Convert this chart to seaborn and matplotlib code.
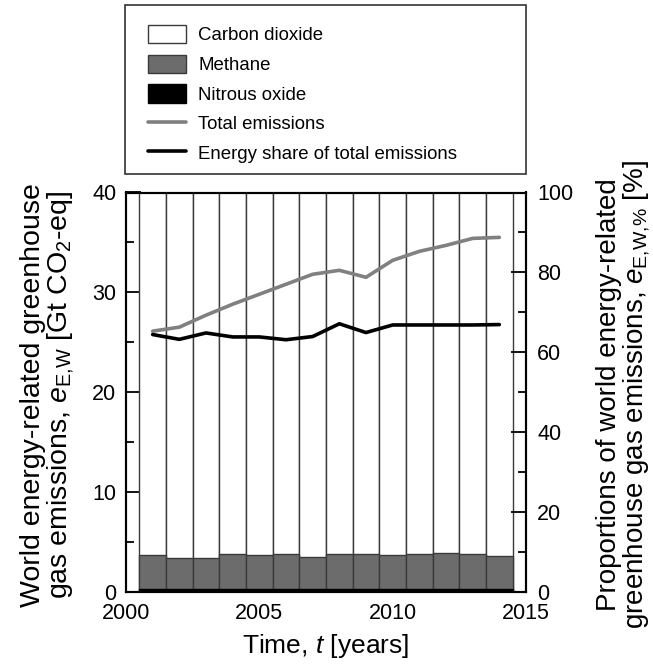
import matplotlib
matplotlib.use("Agg")
import matplotlib.pyplot as plt
from matplotlib.patches import Patch, Rectangle
from matplotlib.lines import Line2D
from matplotlib.ticker import MultipleLocator
import numpy as np
import pandas as pd
import seaborn as sns

# ---------------- data ----------------
years = list(range(2001, 2015))
# CO2 bars run off the top of the axis in the original (clipped at 40)
co2 = [40.0, 40.0, 40.0, 40.0, 40.0, 40.0, 40.0, 40.0, 40.0, 40.0, 40.0, 40.0, 40.0, 40.0]
methane = [3.34, 3.08, 3.08, 3.41, 3.34, 3.41, 3.11, 3.45, 3.48, 3.34, 3.41, 3.58, 3.45, 3.28]
nitrous = [0.3, 0.3, 0.3, 0.3, 0.3, 0.3, 0.3, 0.3, 0.3, 0.3, 0.3, 0.3, 0.3, 0.3]
total = [26.1, 26.5, 27.7, 28.8, 29.8, 30.8, 31.8, 32.2, 31.5, 33.2, 34.1, 34.7, 35.4, 35.5]
share = [64.4, 63.2, 64.8, 63.8, 63.8, 63.1, 63.9, 67.1, 64.9, 66.8, 66.8, 66.8, 66.8, 66.9]

legend_labels = ["Carbon dioxide", "Methane", "Nitrous oxide",
                 "Total emissions", "Energy share of total emissions"]
xticks = [2000, 2005, 2010, 2015]
left_ticks = [0, 10, 20, 30, 40]
right_ticks = [0, 20, 40, 60, 80, 100]

# ---------------- style ----------------
sns.set_theme(style="ticks")
plt.rcParams["font.family"] = ["Liberation Sans", "DejaVu Sans"]
plt.rcParams["mathtext.fontset"] = "custom"
plt.rcParams["mathtext.rm"] = "Liberation Sans"
plt.rcParams["mathtext.it"] = "Liberation Sans:italic"
plt.rcParams["mathtext.bf"] = "Liberation Sans:bold"
plt.rcParams["axes.linewidth"] = 1.5
plt.rcParams["axes.edgecolor"] = "black"
plt.rcParams["text.color"] = "black"
plt.rcParams["axes.labelcolor"] = "black"
plt.rcParams["xtick.color"] = "black"
plt.rcParams["ytick.color"] = "black"

df = pd.DataFrame({"year": years, "co2": co2, "ch4": methane, "n2o": nitrous,
                   "total": total, "share": share})
df["n2o_top"] = df["n2o"]
df["ch4_top"] = df["n2o"] + df["ch4"]
df["co2_top"] = df["ch4_top"] + df["co2"]

CH4_COL = "#6c6c6c"
TOT_COL = "#808080"
EDGE = "#3a3a3a"

fig = plt.figure(figsize=(6.53, 6.69), dpi=100)
ax = fig.add_axes([126 / 653, 1 - 591.5 / 669, 400 / 653, 399 / 669])

sns.barplot(data=df, x="year", y="co2_top", native_scale=True, width=1,
            color="white", edgecolor=EDGE, linewidth=1.0, saturation=1,
            errorbar=None, ax=ax)
sns.barplot(data=df, x="year", y="ch4_top", native_scale=True, width=1,
            color=CH4_COL, edgecolor=EDGE, linewidth=1.0, saturation=1,
            errorbar=None, ax=ax)
sns.barplot(data=df, x="year", y="n2o_top", native_scale=True, width=1,
            color="black", edgecolor="black", linewidth=1.0, saturation=1,
            errorbar=None, ax=ax)
sns.lineplot(data=df, x="year", y="total", color=TOT_COL, linewidth=2.6, ax=ax,
             zorder=5)

ax.set_xlim(2000, 2015)
ax.set_ylim(0, 40)
ax.set_xticks(xticks)
ax.set_xticklabels([str(t) for t in xticks])
ax.set_yticks(left_ticks)
ax.xaxis.set_minor_locator(MultipleLocator(1))
ax.yaxis.set_minor_locator(MultipleLocator(5))
ax.tick_params(which="both", direction="in", top=True, bottom=True,
               right=False, left=True, width=1.3, colors="black",
               labelsize=15.5)
ax.tick_params(which="major", length=11)
ax.tick_params(which="minor", length=6)
ax.tick_params(axis="x", pad=8)
ax.tick_params(axis="y", pad=7)
ax.set_xlabel("Time, $\\it{t}$ [years]", fontsize=19, labelpad=6, color="black")
ax.set_ylabel("")

ax2 = ax.twinx()
sns.lineplot(data=df, x="year", y="share", color="black", linewidth=2.6, ax=ax2)
ax2.set_ylim(0, 100)
ax2.set_yticks(right_ticks)
ax2.yaxis.set_minor_locator(MultipleLocator(10))
ax2.tick_params(which="both", direction="in", width=1.3, colors="black",
                labelsize=15.5, pad=8)
ax2.tick_params(which="major", length=11)
ax2.tick_params(which="minor", length=6)
ax2.set_ylabel("")
for sp in ax2.spines.values():
    sp.set_linewidth(1.5)

fig.text(48 / 653, 1 - 395 / 669,
         "World energy-related greenhouse\ngas emissions, $e_{\\mathrm{E{,}W}}$ [Gt CO$_2$-eq]",
         rotation=90, ha="center", va="center", multialignment="center",
         fontsize=20.5, linespacing=1.0, color="black")
fig.text(624 / 653, 1 - 395 / 669,
         "Proportions of world energy-related\ngreenhouse gas emissions, $e_{\\mathrm{E{,}W{,}\\%}}$ [%]",
         rotation=90, ha="center", va="center", multialignment="center",
         fontsize=20, linespacing=1.0, color="black")

# legend
handles = [Patch(facecolor="white", edgecolor=EDGE, linewidth=1.0),
           Patch(facecolor=CH4_COL, edgecolor=EDGE, linewidth=1.0),
           Patch(facecolor="black", edgecolor="black", linewidth=1.0),
           Line2D([], [], color=TOT_COL, linewidth=2.6),
           Line2D([], [], color="black", linewidth=2.6)]
fig.patches.append(Rectangle((125 / 653, 1 - 174 / 669), 401 / 653, 169 / 669,
                             transform=fig.transFigure, facecolor="white",
                             edgecolor="#333333", linewidth=1.2, zorder=0))
leg = fig.legend(handles, legend_labels, loc="upper left",
                 bbox_to_anchor=(148 / 653, 1 - 25 / 669), frameon=False,
                 borderpad=0, borderaxespad=0, fontsize=13.4, handlelength=2.05,
                 handleheight=1.13, handletextpad=0.65, labelspacing=0.55)
for t in leg.get_texts():
    t.set_color("black")

fig.savefig("out.png", dpi=100)
